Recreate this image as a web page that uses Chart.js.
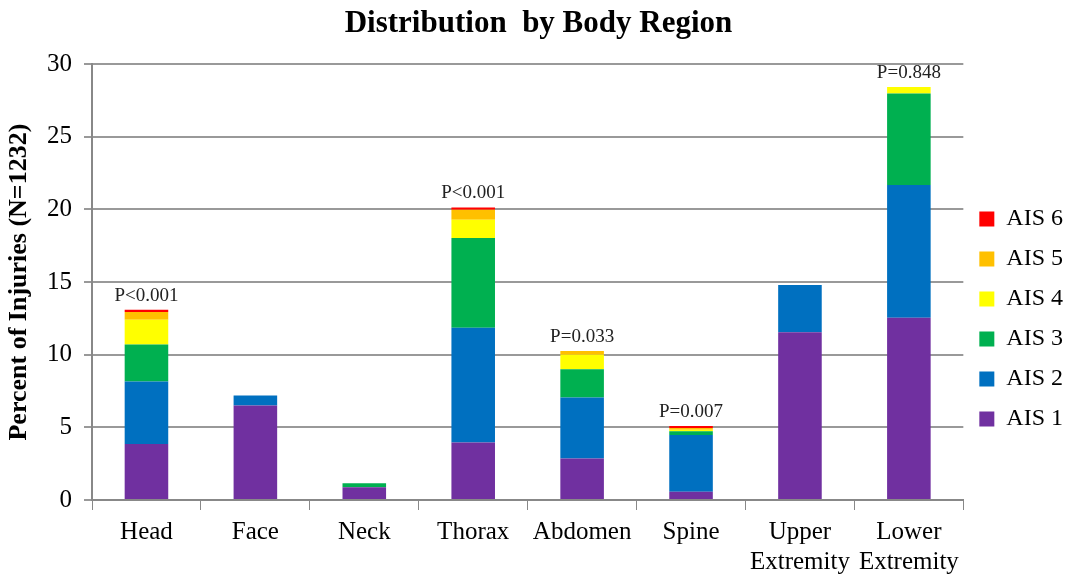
<!DOCTYPE html>
<html>
<head>
<meta charset="utf-8">
<script src="https://cdn.jsdelivr.net/npm/chart.js@4/dist/chart.umd.min.js"></script>
<style>
  body { margin: 0; background: #fff; }
</style>
</head>
<body>
<canvas id="myChart" width="1073" height="578"></canvas>
<script>
// Régions du corps
var regions = ["Head", "Face", "Neck", "Thorax", "Abdomen", "Spine", ["Upper", "Extremity"], ["Lower", "Extremity"]];

// Pourcentage de blessures par niveau AIS
var ais1 = [3.85, 6.5, 0.87, 3.96, 2.85, 0.57, 11.55, 12.55];
var ais2 = [4.3, 0.7, 0, 7.9, 4.2, 3.9, 3.25, 9.13];
var ais3 = [2.55, 0, 0.28, 6.18, 1.95, 0.27, 0, 6.3];
var ais4 = [1.7, 0, 0, 1.26, 1.0, 0.1, 0, 0.45];
var ais5 = [0.55, 0, 0, 0.68, 0.25, 0.12, 0, 0];
var ais6 = [0.15, 0, 0, 0.16, 0, 0.13, 0, 0];

// Valeurs p au-dessus des barres
var pValues = ["P<0.001", "", "", "P<0.001", "P=0.033", "P=0.007", "", "P=0.848"];

var serif = "'Liberation Serif', 'Times New Roman', serif";

// Plugin pour écrire les valeurs p au-dessus de chaque barre
var pLabelsPlugin = {
    id: 'pLabels',
    afterDatasetsDraw: function(chart) {
        var ctx = chart.ctx;
        var yScale = chart.scales.y;
        var xScale = chart.scales.x;
        ctx.save();
        ctx.font = "19px " + serif;
        ctx.fillStyle = "#222";
        ctx.textAlign = "center";
        ctx.textBaseline = "alphabetic";
        for (var i = 0; i < pValues.length; i++) {
            if (!pValues[i]) continue;
            var total = ais1[i] + ais2[i] + ais3[i] + ais4[i] + ais5[i] + ais6[i];
            var x = xScale.getPixelForValue(i);
            var y = yScale.getPixelForValue(total) - 9;
            ctx.fillText(pValues[i], x, y);
        }
        ctx.restore();
    }
};

var ctx = document.getElementById('myChart').getContext('2d');
var myChart = new Chart(ctx, {
    type: 'bar',
    data: {
        labels: regions,
        datasets: [
            { label: 'AIS 1', data: ais1, backgroundColor: '#7030A0' },
            { label: 'AIS 2', data: ais2, backgroundColor: '#0070C0' },
            { label: 'AIS 3', data: ais3, backgroundColor: '#00B050' },
            { label: 'AIS 4', data: ais4, backgroundColor: '#FFFF00' },
            { label: 'AIS 5', data: ais5, backgroundColor: '#FFC000' },
            { label: 'AIS 6', data: ais6, backgroundColor: '#FF0000' }
        ]
    },
    options: {
        responsive: false,
        animation: false,
        layout: { padding: { left: 4, right: 0, top: 0, bottom: 0 } },
        datasets: {
            bar: { barPercentage: 0.4, categoryPercentage: 1.0, borderWidth: 0 }
        },
        plugins: {
            title: {
                display: true,
                text: 'Distribution  by Body Region',
                color: '#000',
                font: { family: serif, size: 31, weight: 'bold' },
                padding: { top: 5, bottom: 22 }
            },
            legend: {
                position: 'right',
                reverse: true,
                title: {
                    display: true,
                    text: '',
                    font: { size: 10 },
                    padding: 24
                },
                labels: {
                    color: '#000',
                    font: { family: serif, size: 24 },
                    boxWidth: 15,
                    boxHeight: 15,
                    padding: 16
                }
            },
            tooltip: { enabled: false }
        },
        scales: {
            x: {
                stacked: true,
                afterFit: function(scale) { scale.height = 78; },
                grid: {
                    drawOnChartArea: false,
                    color: '#888',
                    tickLength: 10,
                    offset: true
                },
                border: { color: '#888', width: 2 },
                ticks: {
                    color: '#000',
                    font: { family: serif, size: 25, lineHeight: 1.2 },
                    maxRotation: 0,
                    autoSkip: false,
                    padding: 7
                }
            },
            y: {
                stacked: true,
                min: 0,
                max: 30,
                afterFit: function(scale) { scale.width = 88; },
                grid: { color: '#999', lineWidth: 2, tickLength: 8 },
                border: { color: '#888', width: 2 },
                ticks: {
                    stepSize: 5,
                    color: '#000',
                    font: { family: serif, size: 25 },
                    padding: 12
                },
                title: {
                    display: true,
                    text: 'Percent of Injuries (N=1232)',
                    color: '#000',
                    font: { family: serif, size: 26, weight: 'bold' },
                    padding: { top: 0, bottom: 4 }
                }
            }
        }
    },
    plugins: [pLabelsPlugin]
});
</script>
</body>
</html>
